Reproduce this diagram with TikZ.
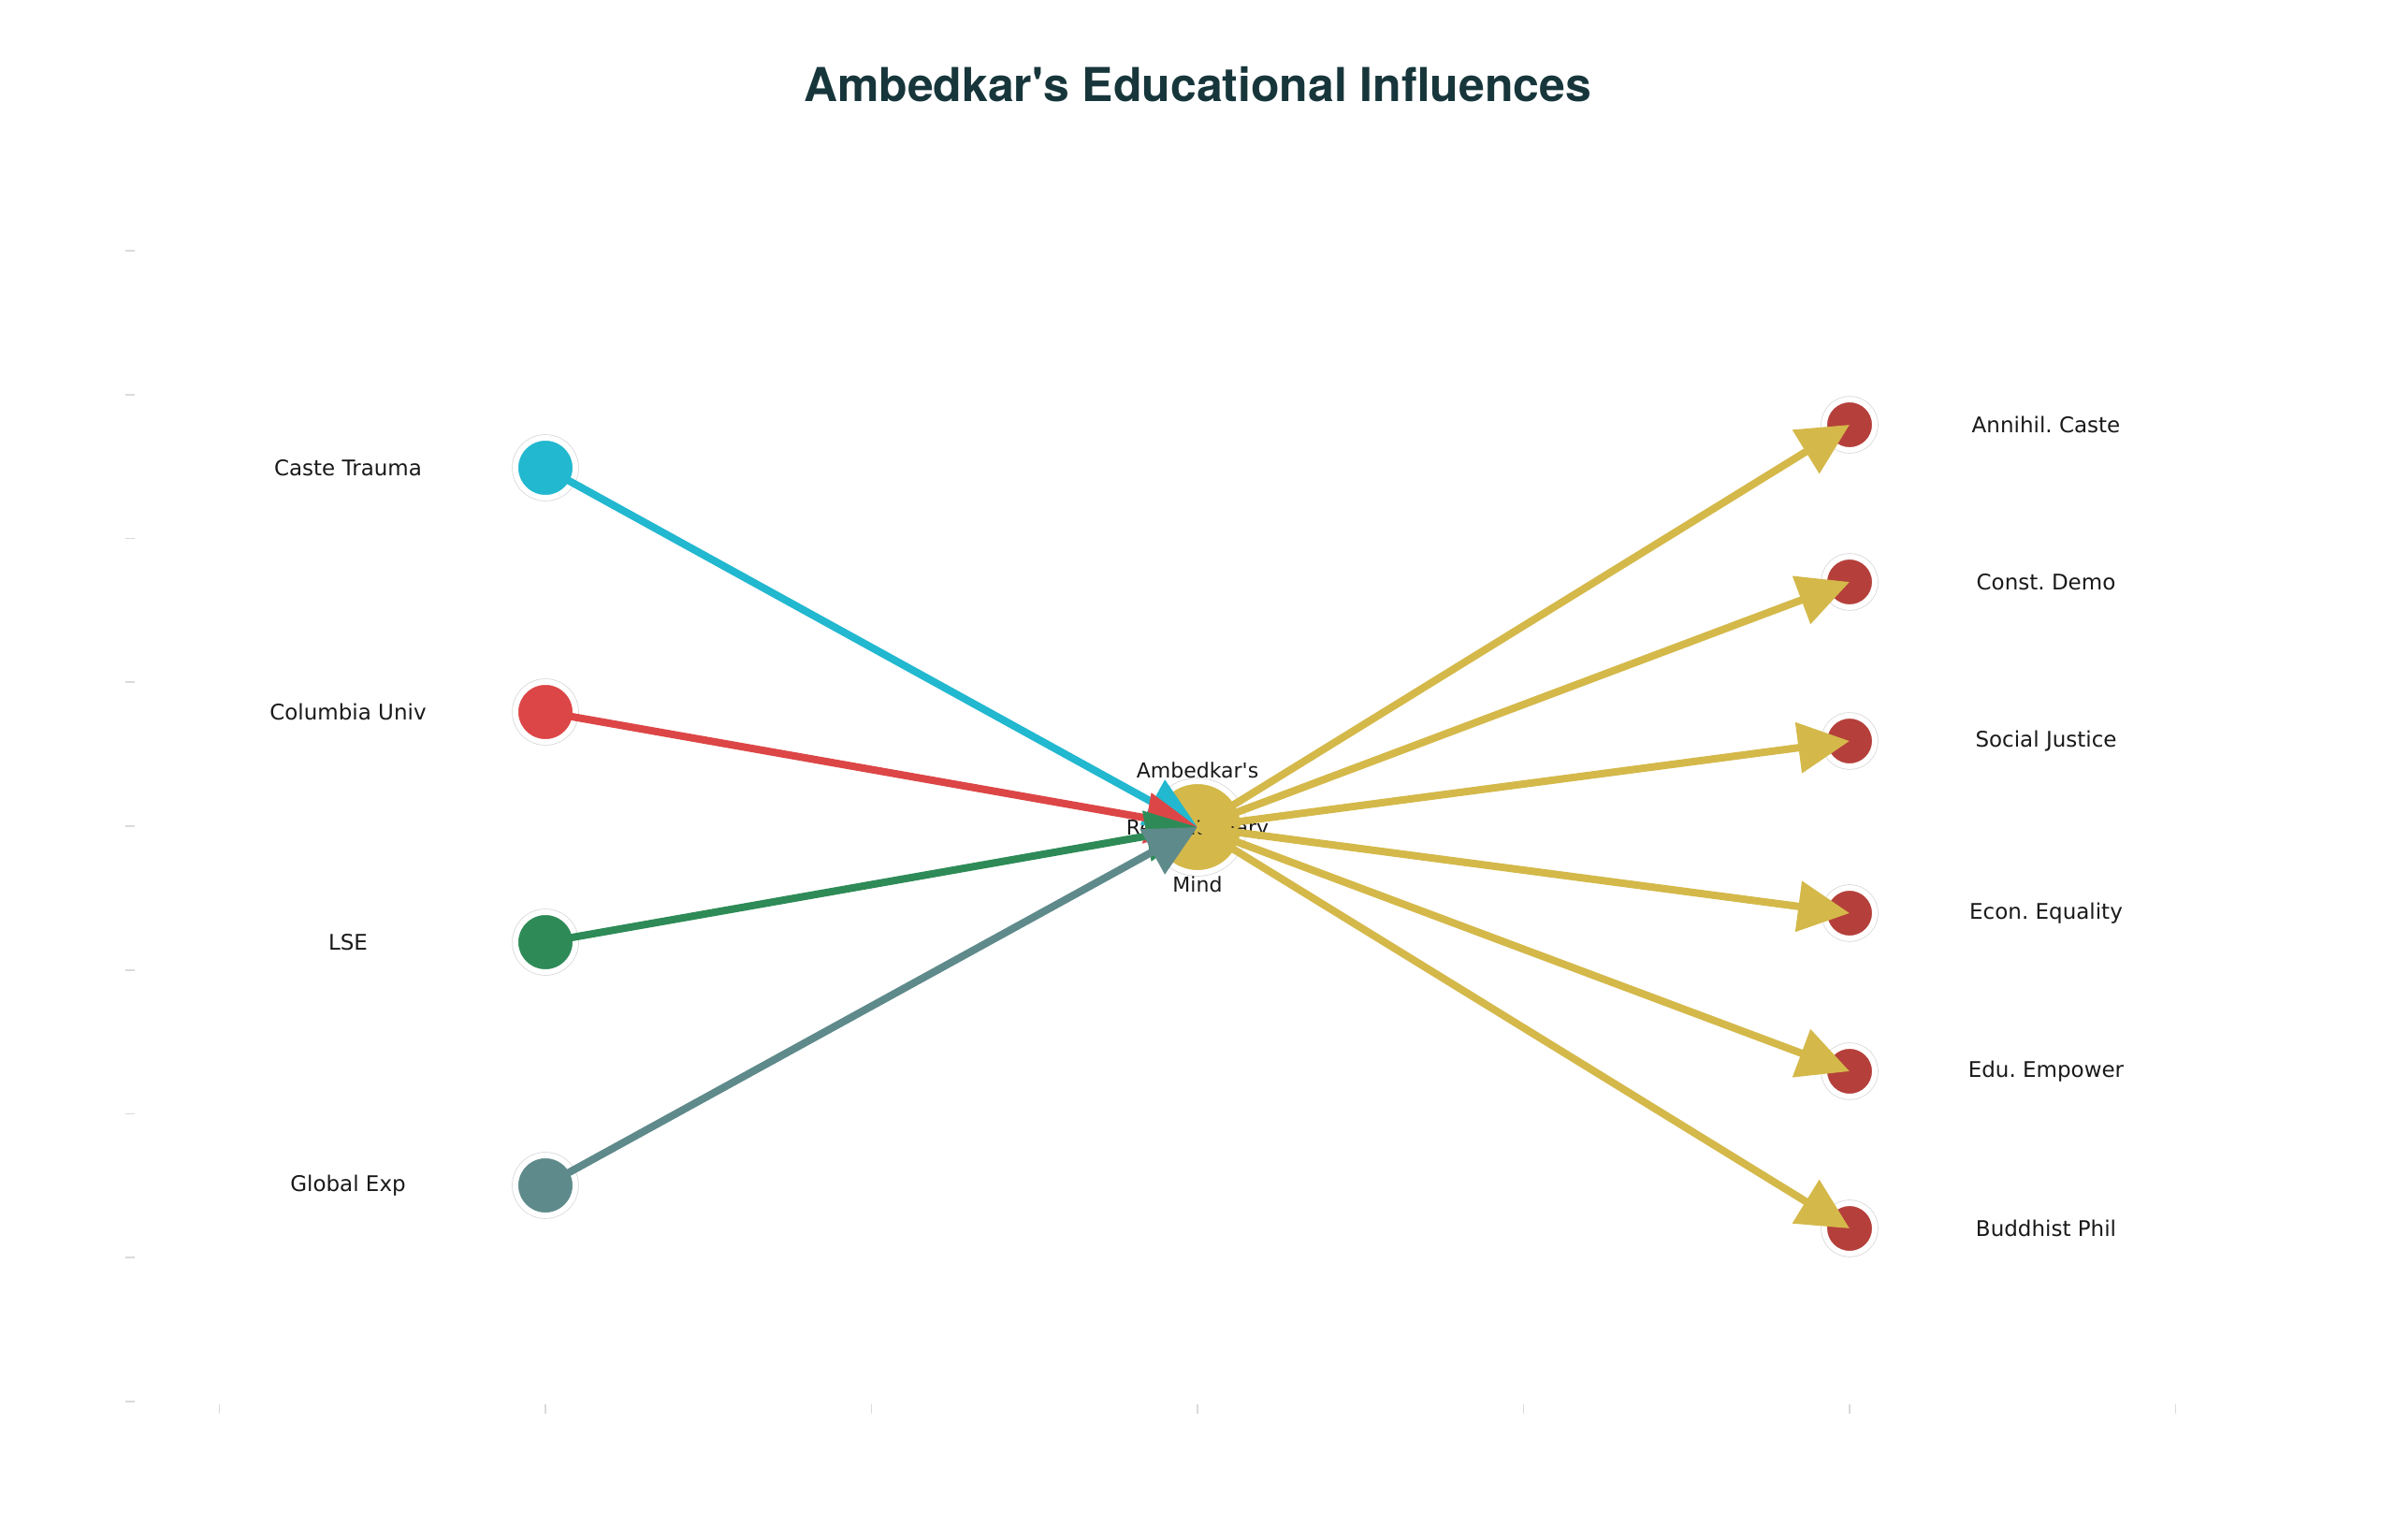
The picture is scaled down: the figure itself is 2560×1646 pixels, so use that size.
\documentclass[tikz,border=0pt]{standalone}
\usepackage{fontspec}
\setmainfont{DejaVu Sans}
\newfontfamily\titlefont{TeX Gyre Heros}
\usetikzlibrary{arrows.meta}
\definecolor{cyanA}{HTML}{22B8CF}
\definecolor{redA}{HTML}{DD4646}
\definecolor{greenA}{HTML}{2E8B57}
\definecolor{slateA}{HTML}{5F8A8B}
\definecolor{goldA}{HTML}{D4B94A}
\definecolor{brickA}{HTML}{B5403B}
\definecolor{titleA}{HTML}{17363B}
\definecolor{tickA}{HTML}{DADADA}
\definecolor{textA}{HTML}{1A1A1A}
\frenchspacing
\begin{document}
\begin{tikzpicture}[x=0.01cm,y=-0.01cm,
  ring/.style={circle, inner sep=0pt, outer sep=0pt, draw=white, line width=0.06cm,
    preaction={draw=black!16, line width=0.075cm}},
  srcnode/.style={ring, minimum size=0.64cm},
  hubnode/.style={ring, minimum size=0.98cm, fill=goldA},
  outnode/.style={ring, minimum size=0.54cm, fill=brickA},
  lbl/.style={font=\fontsize{6.54}{7.8}\selectfont, text=textA, inner sep=0pt},
  hublbl/.style={font=\fontsize{6.26}{17.36}\selectfont, text=textA, align=center, inner sep=0pt},
  titlelbl/.style={font=\titlefont\bfseries\fontsize{14.2}{17}\selectfont, text=titleA, inner sep=0pt},
  flow/.style={line width=0.08cm, -{Triangle[length=0.55cm, width=0.53cm]}},
  axtick/.style={draw=tickA, line width=0.018cm}
]
\useasboundingbox[fill=white] (0,0) rectangle (2560,1646);

% title
\node[titlelbl, anchor=base] (title) at (1280,109) {Ambedkar\textquotesingle s Educational Influences};

% axis ticks
\foreach \k in {-4,...,4} {
  \draw[axtick] (134,{883+153.75*\k}) -- (144,{883+153.75*\k});
}
\foreach \k in {-3,...,3} {
  \draw[axtick] ({1280+348.5*\k},1501) -- ({1280+348.5*\k},1511);
}

% source nodes
\node[srcnode, fill=cyanA]  (ct)  at (583,500)  {};
\node[srcnode, fill=redA]   (cu)  at (583,761)  {};
\node[srcnode, fill=greenA] (lse) at (583,1007) {};
\node[srcnode, fill=slateA] (ge)  at (583,1267) {};

% hub
\node[hubnode] (hub) at (1280,884) {};

% outcome nodes
\node[outnode] (o1) at (1977,454)  {};
\node[outnode] (o2) at (1977,622)  {};
\node[outnode] (o3) at (1977,792)  {};
\node[outnode] (o4) at (1977,976)  {};
\node[outnode] (o5) at (1977,1145) {};
\node[outnode] (o6) at (1977,1313) {};

% labels
\node[lbl] (lct)  at (372,500)  {Caste Trauma};
\node[lbl] (lcu)  at (372,761)  {Columbia Univ};
\node[lbl] (llse) at (372,1007) {LSE};
\node[lbl] (lge)  at (372,1267) {Global Exp};

\node[lbl] (lo1) at (2187,454)  {Annihil. Caste};
\node[lbl] (lo2) at (2187,622)  {Const. Demo};
\node[lbl] (lo3) at (2187,792)  {Social Justice};
\node[lbl] (lo4) at (2187,976)  {Econ. Equality};
\node[lbl] (lo5) at (2187,1145) {Edu. Empower};
\node[lbl] (lo6) at (2187,1313) {Buddhist Phil};

\node[hublbl] (lhub) at (1280,884) {Ambedkar\textquotesingle s\\Revolutionary\\Mind};

% connectors
\draw[flow, draw=cyanA]  (ct.center)  -- (hub.center);
\draw[flow, draw=redA]   (cu.center)  -- (hub.center);
\draw[flow, draw=greenA] (lse.center) -- (hub.center);
\draw[flow, draw=slateA] (ge.center)  -- (hub.center);

\foreach \o in {o1,o2,o3,o4,o5,o6} {
  \draw[flow, draw=goldA] (hub.center) -- (\o.center);
}
\end{tikzpicture}
\end{document}
